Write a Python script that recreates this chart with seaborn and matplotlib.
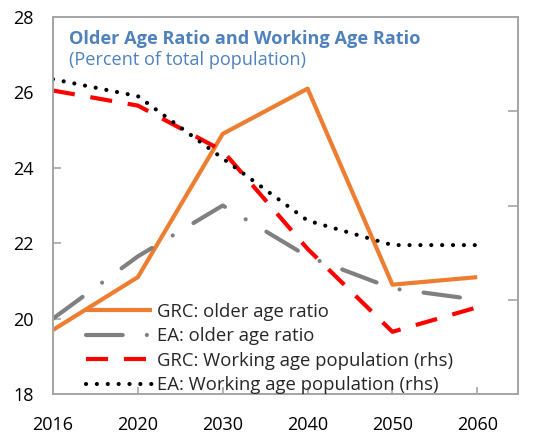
import matplotlib
matplotlib.use("Agg")
import matplotlib.pyplot as plt
import seaborn as sns
import pandas as pd

# Data (older-age ratio on the left axis, working-age share on the right axis)
years = ["2016", "2020", "2030", "2040", "2050", "2060"]
grc_older = [19.7, 21.1, 24.9, 26.1, 20.9, 21.1]
ea_older = [20.0, 21.65, 23.0, 21.65, 20.8, 20.5]
grc_working = [66.1, 65.3, 62.9, 57.7, 53.3, 54.6]
ea_working = [66.7, 65.8, 62.5, 59.2, 57.9, 57.9]

df = pd.DataFrame({
    "year": years,
    "grc_older": grc_older,
    "ea_older": ea_older,
    "grc_working": grc_working,
    "ea_working": ea_working,
})

sns.set_theme(style="white")
plt.rcParams["font.family"] = ["Open Sans", "DejaVu Sans"]

TICK_FS = 13.0
TITLE_FS = 13.1
LEG_FS = 13.3
AXIS_GREY = "#A6A6A6"
TITLE_BLUE = "#4F81BD"

fig = plt.figure(figsize=(5.36, 4.34), dpi=100)
ax = fig.add_axes([53 / 536, 1 - 394 / 434, 465 / 536, 377 / 434])
ax2 = ax.twinx()

LW = 3.0
sns.lineplot(data=df, x="year", y="grc_older", ax=ax, color="#ED7D31",
             linewidth=LW, sort=False, label="GRC: older age ratio",
             legend=False, solid_capstyle="butt")
sns.lineplot(data=df, x="year", y="ea_older", ax=ax, color="#808080",
             linewidth=LW, sort=False, label="EA: older age ratio",
             legend=False, linestyle=(0, (8.8, 5.8, 0.01, 5.8)),
             dash_capstyle="round")
sns.lineplot(data=df, x="year", y="grc_working", ax=ax2, color="#FF0000",
             linewidth=LW, sort=False, label="GRC: Working age population (rhs)",
             legend=False, linestyle=(0, (5.3, 3.8)), dash_capstyle="butt")
sns.lineplot(data=df, x="year", y="ea_working", ax=ax2, color="#000000",
             linewidth=LW, sort=False, label="EA: Working age population (rhs)",
             legend=False, linestyle=(0, (0.01, 2.6)), dash_capstyle="round")

ax.set_xlim(0, 5.48)
ax.set_ylim(18, 28)
ax.set_yticks([18, 20, 22, 24, 26, 28])
ax2.set_ylim(50, 70)
ax2.set_yticks([50, 55, 60, 65, 70])
ax.set_xticks(range(len(years)))
ax.set_xticklabels(years)
ax.set_xlabel("")
ax.set_ylabel("")
ax2.set_ylabel("")

for a in (ax, ax2):
    for s in a.spines.values():
        s.set_color(AXIS_GREY)
        s.set_linewidth(1.3)
        s.set_visible(True)

ax.tick_params(axis="y", which="both", direction="in", length=6, width=1.2,
               color=AXIS_GREY, labelsize=TICK_FS, labelcolor="black", pad=14,
               left=True, right=False)
ax.tick_params(axis="x", which="both", direction="in", length=5, width=1.2,
               color=AXIS_GREY, labelsize=TICK_FS, labelcolor="black", pad=16,
               bottom=True)
ax2.tick_params(axis="y", which="both", direction="in", length=7, width=1.2,
                color=AXIS_GREY, right=True, labelright=False, left=False)

ax.text(0.034, 0.928, "Older Age Ratio and Working Age Ratio",
        transform=ax.transAxes, fontsize=TITLE_FS, fontweight="bold",
        color=TITLE_BLUE, va="baseline", ha="left")
ax.text(0.034, 0.873, "(Percent of total population)",
        transform=ax.transAxes, fontsize=TITLE_FS, color=TITLE_BLUE,
        va="baseline", ha="left")

handles = ax.get_lines() + ax2.get_lines()
labels = [h.get_label() for h in handles]
leg = ax2.legend(handles, labels, loc="lower left",
                 bbox_to_anchor=(0.071, 0.0), frameon=False, fontsize=LEG_FS,
                 handlelength=3.55, handletextpad=0.27, labelspacing=0.35,
                 borderpad=0, borderaxespad=0)

fig.savefig("out.png", dpi=100)
